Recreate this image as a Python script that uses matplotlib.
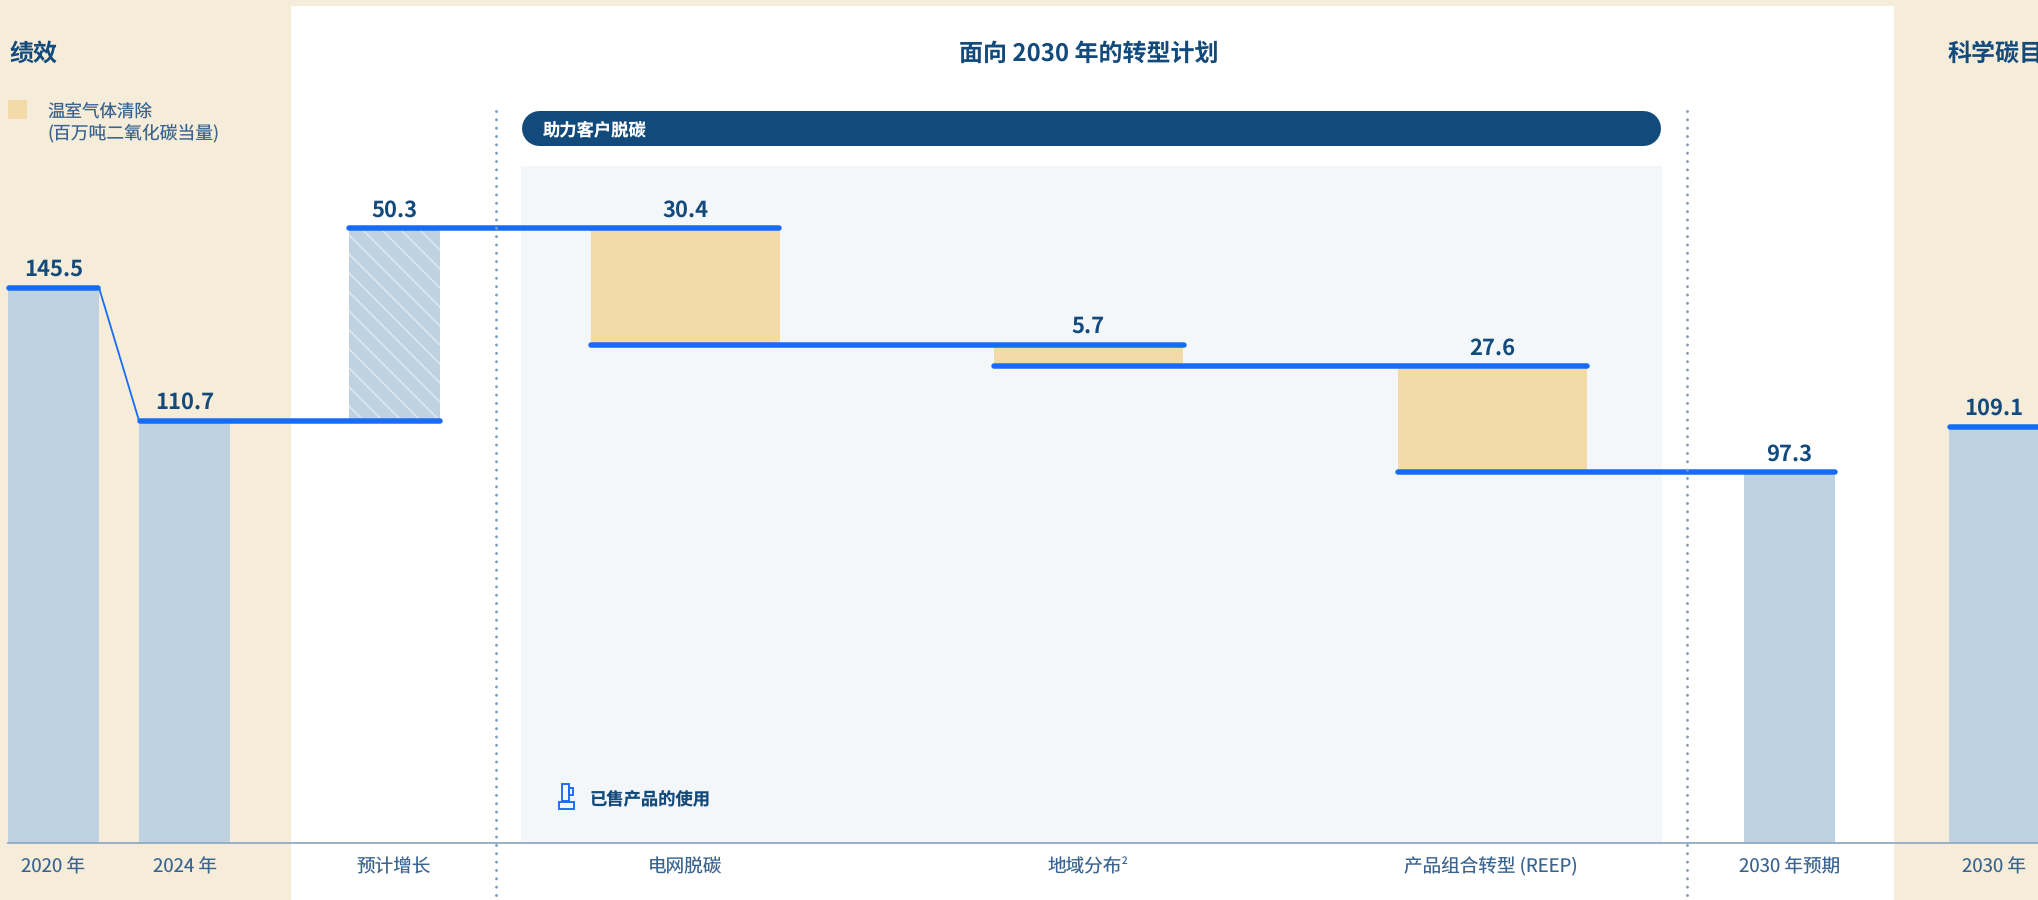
import matplotlib
matplotlib.use('Agg')
import matplotlib.pyplot as plt
from matplotlib.patches import Rectangle

plt.rcParams['font.family'] = ['Noto Sans CJK SC', 'DejaVu Sans']
plt.rcParams['hatch.linewidth'] = 0.9
plt.rcParams['text.hinting'] = 'no_hinting'
plt.rcParams['text.hinting_factor'] = 1

# waterfall values (million tonnes CO2e)
start_2020 = 145.5
base_2024 = 110.7
growth = 50.3
removals = [30.4, 5.7, 27.6]
forecast_2030 = 97.3
target_2030 = 109.1

categories = ['2020 年', '2024 年', '预计增长', '电网脱碳', '地域分布',
              '产品组合转型 (REEP)', '2030 年预期', '2030 年']
label_x = [53, 185, 394, 685, 1085, 1491, 1790, 1994]

W, H = 2038, 900
DPI = 114
BASE_Y = 843.5
PX_PER_UNIT = 3.82

BEIGE = '#F5ECDA'
PALE = '#F4F7FA'
NAVY = '#134A7C'
LABEL = '#3A6490'
STEEL = '#BFD2E2'
SAND = '#F4DAA8'
BLUE = '#176CF7'
DOTS = '#7C9FBF'


def fs(px):
    return px * 72 / DPI


fig = plt.figure(figsize=((W + 0.01) / DPI, (H + 0.01) / DPI), dpi=DPI, facecolor=BEIGE)

# backdrop panels and headings, laid out in pixels
bg = fig.add_axes([0, 0, 1, 1])
bg.set_xlim(0, W)
bg.set_ylim(H, 0)
bg.axis('off')
bg.add_patch(Rectangle((291, 6), 1603, 894, fc='white', ec='none'))
bg.add_patch(Rectangle((521, 166), 1141, 678, fc=PALE, ec='none'))
bg.plot([538.5, 1643], [128, 128], color=NAVY, lw=fs(35), solid_capstyle='round')
bg.text(543, 130, '助力客户脱碳', color='white', fontsize=fs(17.3), weight='bold',
        va='center', ha='left')
bg.text(9, 54, '绩效', color=NAVY, fontsize=fs(24), weight='bold', va='center')
bg.text(1089, 54, '面向 2030 年的转型计划', color=NAVY, fontsize=fs(24), weight='bold',
        va='center', ha='center')
bg.text(1948, 54, '科学碳目标', color=NAVY, fontsize=fs(24), weight='bold', va='center')

# legend
bg.add_patch(Rectangle((8, 100), 19, 19, fc=SAND, ec='none'))
bg.text(48, 112, '温室气体清除', color=LABEL, fontsize=fs(17.5), va='center')
bg.text(47, 133, '(百万吨二氧化碳当量)', color=LABEL, fontsize=fs(17.8), va='center')

# small product icon next to the scope note
bg.add_patch(Rectangle((562, 784), 7, 17, fc='none', ec=BLUE, lw=1.2))
bg.add_patch(Rectangle((569, 788), 4, 7, fc='none', ec=BLUE, lw=1.2))
bg.add_patch(Rectangle((558.5, 802), 15, 7, fc='none', ec=BLUE, lw=1.2))
bg.text(590, 800, '已售产品的使用', color=NAVY, fontsize=fs(17.3), weight='bold', va='center')

# chart axes: bottom edge sits on zero, x in the same pixel layout
ax = fig.add_axes([0, 1 - BASE_Y / H, 1, BASE_Y / H], facecolor='none')
ax.set_xlim(0, W)
ax.set_ylim(0, BASE_Y / PX_PER_UNIT)
for side in ['top', 'left', 'right']:
    ax.spines[side].set_visible(False)
ax.spines['bottom'].set_color('#8FAAC4')
ax.spines['bottom'].set_linewidth(fs(1.8))
ax.spines['bottom'].set_bounds(8, W)
ax.set_yticks([])
ax.set_xticks(label_x, categories, color=LABEL, fontsize=fs(18.6))
ax.tick_params(axis='x', length=0, pad=fs(14))
ax.annotate('2', (1125, 0), xytext=(0, -18), textcoords='offset pixels', ha='center',
            va='center', color=LABEL, fontsize=fs(10), annotation_clip=False)

peak = base_2024 + growth
after_grid = peak - removals[0]
after_geo = after_grid - removals[1]
after_reep = after_geo - removals[2]

# solid totals
ax.bar([53.5, 184.5, 1789.5, 1994.5], [start_2020, base_2024, forecast_2030, target_2030],
       width=91, color=STEEL, lw=0, zorder=2)
# projected growth, hatched
ax.bar(394.5, growth, bottom=base_2024, width=91, facecolor=STEEL, edgecolor='#E1E9F1',
       hatch='\\\\', lw=0, zorder=2)
# removal steps
ax.bar([685.5, 1088.5, 1492.5], removals, bottom=[after_grid, after_geo, after_reep],
       width=189, color=SAND, lw=0, zorder=2)

# level lines linking the steps
level_y = [start_2020, base_2024, peak, after_grid, after_geo, after_reep, target_2030]
level_start = [9, 139.5, 349, 590.5, 994, 1398, 1950]
level_end = [98, 440, 778.5, 1184, 1587, 1835, W + 10]
for y, x0, x1 in zip(level_y, level_start, level_end):
    ax.plot([x0, x1], [y, y], color=BLUE, lw=fs(5.5), solid_capstyle='round', zorder=3)
ax.plot([99, 139], [start_2020, base_2024], color=BLUE, lw=fs(1.8), zorder=3)

# value labels
label_values = [start_2020, base_2024, growth, removals[0], removals[1], removals[2],
                forecast_2030, target_2030]
label_tops = [start_2020, base_2024, peak, peak, after_grid, after_geo, after_reep, target_2030]
label_pos = [53.5, 185, 394, 685, 1088, 1492, 1789.5, 1994]
for v, y, x in zip(label_values, label_tops, label_pos):
    ax.annotate(f'{v:.1f}', (x, y), xytext=(0, 18), textcoords='offset pixels',
                ha='center', va='center', color=NAVY, fontsize=fs(22), weight='bold', zorder=5)

# dotted section dividers, drawn top down so the first dot lands at the top
for x in [495.5, 1687]:
    ax.plot([x, x], [(BASE_Y - 111) / PX_PER_UNIT, -56.5 / PX_PER_UNIT], color=DOTS,
            lw=fs(3), linestyle=(0, (0.01, 2.77)), dash_capstyle='round',
            clip_on=False, zorder=4)

fig.savefig('out.png', dpi=DPI, facecolor=BEIGE)
